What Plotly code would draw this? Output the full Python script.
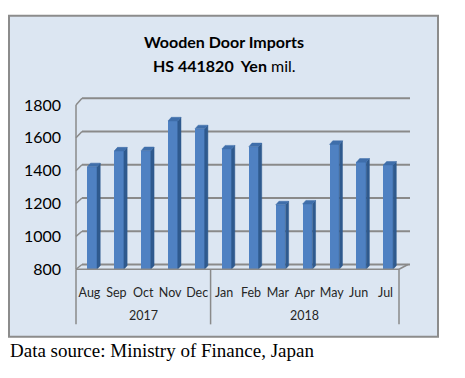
import numpy as np
import plotly.graph_objects as go

# ---- data ----
months = ["Aug", "Sep", "Oct", "Nov", "Dec", "Jan", "Feb", "Mar", "Apr", "May", "Jun", "Jul"]
years = ["2017", "2018"]
year_counts = [5, 7]
values = [1424, 1520, 1522, 1703, 1655, 1532, 1546, 1192, 1197, 1560, 1452, 1434]
y_ticks = [800, 1000, 1200, 1400, 1600, 1800]

W, H = 465, 378
def px(x): return x / W
def py(y): return 1 - y / H

# front plane (bars) and back plane (gridlines) in pixels
FX0, FX1, FY0, FY1 = 76, 399, 273, 100
BX0, BX1, BY0, BY1 = 82, 410, 268, 93
YMIN, YMAX = 800, 1800
n = len(months)

fig = go.Figure()

# bars
shift = 0.10
w = 0.36
dx = 0.12
dy = 22
xc = np.arange(n) + shift
fig.add_trace(go.Bar(x=xc, y=values, width=w, marker=dict(color="#4f81c2", line=dict(width=0)),
                     showlegend=False))
side_x, side_y, top_x, top_y = [], [], [], []
for xi, v in zip(xc, values):
    xl, xr = xi - w / 2, xi + w / 2
    side_x += [xr, xr, xr + dx, xr + dx, xr, None]
    side_y += [YMIN, v, v + dy, YMIN + dy, YMIN, None]
    top_x += [xl, xr, xr + dx, xl + dx, xl, None]
    top_y += [v, v, v + dy, v + dy, v, None]
fig.add_trace(go.Scatter(x=side_x, y=side_y, fill="toself", fillcolor="#2f5a8e", mode="lines",
                         line=dict(width=0.5, color="#2f5a8e"), showlegend=False, hoverinfo="skip"))
fig.add_trace(go.Scatter(x=top_x, y=top_y, fill="toself", fillcolor="#3f6eaa", mode="lines",
                         line=dict(width=0.5, color="#3f6eaa"), showlegend=False, hoverinfo="skip"))

shapes = []
# outer box
shapes.append(dict(type="rect", xref="paper", yref="paper", x0=px(9), x1=px(438), y0=py(344), y1=py(6),
                   fillcolor="#dce6f2", line=dict(color="#8c8c8c", width=2), layer="below"))
grid_col = "#8a8a8a"
# back-wall gridlines and left-wall diagonals
for t in y_ticks:
    fy = FY0 + (FY1 - FY0) * (t - YMIN) / (YMAX - YMIN)
    by = BY0 + (BY1 - BY0) * (t - YMIN) / (YMAX - YMIN)
    shapes.append(dict(type="line", xref="paper", yref="paper", x0=px(BX0), x1=px(BX1), y0=py(by), y1=py(by),
                       line=dict(color=grid_col, width=2), layer="below"))
    shapes.append(dict(type="line", xref="paper", yref="paper", x0=px(FX0), x1=px(BX0), y0=py(fy), y1=py(by),
                       line=dict(color=grid_col, width=1.5), layer="below"))
# left wall vertical
shapes.append(dict(type="line", xref="paper", yref="paper", x0=px(FX0), x1=px(FX0), y0=py(FY0), y1=py(FY1),
                   line=dict(color=grid_col, width=1.5)))
# floor front edge and right diagonal
shapes.append(dict(type="line", xref="paper", yref="paper", x0=px(FX0), x1=px(FX1), y0=py(FY0), y1=py(FY0),
                   line=dict(color=grid_col, width=1.5)))
shapes.append(dict(type="line", xref="paper", yref="paper", x0=px(FX1), x1=px(BX1 - 2), y0=py(FY0), y1=py(BY0),
                   line=dict(color=grid_col, width=1.5)))
# category group dividers
cum = np.cumsum([0] + year_counts)
for c in cum:
    xv = FX0 + (FX1 - FX0) * c / n
    shapes.append(dict(type="line", xref="paper", yref="paper", x0=px(xv), x1=px(xv), y0=py(FY0), y1=py(331),
                       line=dict(color=grid_col, width=1.5)))

annotations = []
for i, yr in enumerate(years):
    mid = (cum[i] + cum[i + 1]) / 2
    xv = FX0 + (FX1 - FX0) * mid / n
    annotations.append(dict(text=yr, xref="paper", yref="paper", x=px(xv), y=py(322), showarrow=False,
                            font=dict(family="Lato", size=12.5, color="#262626"), xanchor="center", yanchor="middle"))
annotations.append(dict(text="<b>Wooden Door Imports</b>", xref="paper", yref="paper", x=px(224), y=py(33),
                        showarrow=False, font=dict(family="Lato", size=16, color="#000000"),
                        xanchor="center", yanchor="middle"))
annotations.append(dict(text="<b>HS 441820  Yen</b> mil.", xref="paper", yref="paper", x=px(224), y=py(58),
                        showarrow=False, font=dict(family="Lato", size=16, color="#000000"),
                        xanchor="center", yanchor="middle"))
annotations.append(dict(text="Data source: Ministry of Finance, Japan", xref="paper", yref="paper", x=px(8), y=py(358),
                        showarrow=False, font=dict(family="Liberation Serif", size=19, color="#000000"),
                        xanchor="left", yanchor="middle"))

fig.update_layout(
    width=W, height=H,
    margin=dict(l=0, r=0, t=0, b=0),
    paper_bgcolor="white", plot_bgcolor="rgba(0,0,0,0)",
    showlegend=False,
    shapes=shapes, annotations=annotations,
    xaxis=dict(domain=[px(FX0), px(FX1)], range=[-0.5, n - 0.5],
               tickvals=list(range(n)), ticktext=months, showgrid=False, zeroline=False, showline=False,
               ticks="", ticklabelstandoff=14,
               tickfont=dict(family="Lato", size=12.5, color="#262626")),
    yaxis=dict(domain=[py(FY0), py(FY1)], range=[YMIN, YMAX], tickvals=y_ticks,
               showgrid=False, zeroline=False, showline=False, ticks="", ticklabelstandoff=14,
               tickfont=dict(family="Lato", size=16, color="#000000")),
    bargap=0,
)

fig.write_html("out.html", config={"displayModeBar": False},
               post_script="document.body.style.margin='0';document.body.style.overflow='hidden';")
